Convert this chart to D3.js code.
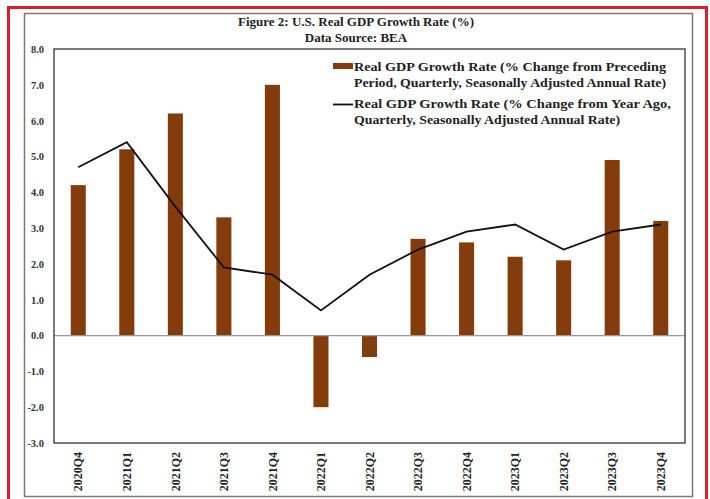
<!DOCTYPE html>
<html>
<head>
<meta charset="utf-8">
<script src="https://cdn.jsdelivr.net/npm/d3@7"></script>
<style>
  body { margin: 0; background: #fff; }
  text { font-family: "Liberation Serif", "Times New Roman", serif; font-weight: bold; }
</style>
</head>
<body>
<svg id="chart" width="710" height="499"></svg>
<script>
// data
const quarters = ["2020Q4", "2021Q1", "2021Q2", "2021Q3", "2021Q4", "2022Q1", "2022Q2",
  "2022Q3", "2022Q4", "2023Q1", "2023Q2", "2023Q3", "2023Q4"];
const qoqRate = [4.2, 5.2, 6.2, 3.3, 7.0, -2.0, -0.6, 2.7, 2.6, 2.2, 2.1, 4.9, 3.2];
const yoyRate = [4.7, 5.4, 3.6, 1.9, 1.7, 0.7, 1.7, 2.4, 2.9, 3.1, 2.4, 2.9, 3.1];
const yTicks = [-3, -2, -1, 0, 1, 2, 3, 4, 5, 6, 7, 8];
const titleLines = ["Figure 2: U.S. Real GDP Growth Rate (%)", "Data Source: BEA"];
const legendBar = ["Real GDP Growth Rate (% Change from Preceding",
  "Period, Quarterly, Seasonally Adjusted Annual Rate)"];
const legendLine = ["Real GDP Growth Rate (% Change from Year Ago,",
  "Quarterly, Seasonally Adjusted Annual Rate)"];

const svg = d3.select("#chart");
const margin = { top: 49, right: 25, bottom: 56, left: 54 };
const width = +svg.attr("width");
const height = +svg.attr("height");
const innerWidth = width - margin.left - margin.right;
const innerHeight = height - margin.top - margin.bottom;

const barColor = "#843c0c";

//outer frames
svg.append("rect")
  .attr("x", 8.5).attr("y", 7.5).attr("width", 698).attr("height", 520)
  .attr("fill", "none").attr("stroke", "#d71f2f").attr("stroke-width", 3);

svg.append("rect")
  .attr("x", 24.5).attr("y", 13.5).attr("width", 668).attr("height", 483)
  .attr("fill", "none").attr("stroke", "#7a7a7a").attr("stroke-width", 1.5);

//title
svg.selectAll(".title")
  .data(titleLines)
  .enter()
  .append("text")
  .attr("class", "title")
  .attr("x", 356)
  .attr("y", (d, i) => 26 + i * 16)
  .attr("text-anchor", "middle")
  .attr("font-size", 13)
  .attr("fill", "#222")
  .text((d) => d);

const g = svg.append("g")
  .attr("transform", `translate(${margin.left},${margin.top})`);

//scales
const xScale = d3.scaleBand()
  .domain(quarters)
  .range([0, innerWidth])
  .paddingInner(0.69)
  .paddingOuter(0.345);

const yScale = d3.scaleLinear()
  .domain([-3, 8])
  .range([innerHeight, 0]);

//y axis
const yAxisG = g.append("g")
  .call(d3.axisLeft(yScale).tickValues(yTicks).tickSize(0).tickPadding(10)
    .tickFormat((d) => d.toFixed(1)));
yAxisG.select(".domain").remove();
yAxisG.selectAll("text")
  .attr("font-family", "Liberation Serif, serif")
  .attr("font-size", 10.5)
  .attr("fill", "#333");

//x axis
const xAxisG = g.append("g")
  .attr("transform", `translate(0,${innerHeight})`)
  .call(d3.axisBottom(xScale).tickSize(0));
xAxisG.select(".domain").remove();
xAxisG.selectAll("text")
  .attr("transform", "rotate(-90)")
  .attr("x", -9)
  .attr("y", 0)
  .attr("dy", "0.35em")
  .attr("text-anchor", "end")
  .attr("font-family", "Liberation Serif, serif")
  .attr("font-size", 12)
  .attr("fill", "#222");

//bars
g.selectAll(".bar")
  .data(qoqRate)
  .enter()
  .append("rect")
  .attr("class", "bar")
  .attr("x", (d, i) => xScale(quarters[i]))
  .attr("y", (d) => yScale(Math.max(0, d)))
  .attr("width", xScale.bandwidth())
  .attr("height", (d) => Math.abs(yScale(d) - yScale(0)))
  .attr("fill", barColor);

//zero line
g.append("line")
  .attr("x1", 0).attr("x2", innerWidth)
  .attr("y1", yScale(0)).attr("y2", yScale(0))
  .attr("stroke", "#999").attr("stroke-width", 1.2);

//year-ago line
const lineGenerator = d3.line()
  .x((d, i) => xScale(quarters[i]) + xScale.bandwidth() / 2)
  .y((d) => yScale(d));

g.append("path")
  .attr("d", lineGenerator(yoyRate))
  .attr("fill", "none")
  .attr("stroke", "#111")
  .attr("stroke-width", 1.8);

//plot border
g.append("rect")
  .attr("x", 0).attr("y", 0)
  .attr("width", innerWidth).attr("height", innerHeight)
  .attr("fill", "none").attr("stroke", "#333").attr("stroke-width", 1.3);

//legend
const legend = svg.append("g").attr("transform", "translate(333,0)");

legend.append("rect")
  .attr("x", 0).attr("y", 63).attr("width", 20).attr("height", 6)
  .attr("fill", barColor);

legend.append("line")
  .attr("x1", 0).attr("x2", 20).attr("y1", 104.5).attr("y2", 104.5)
  .attr("stroke", "#111").attr("stroke-width", 1.8);

// widths of each legend line as measured on the picture
const barLens = [312, 312];
const lineLens = [317, 266];

legend.selectAll(".leg-bar")
  .data(legendBar)
  .enter()
  .append("text")
  .attr("class", "leg-bar")
  .attr("x", 21)
  .attr("y", (d, i) => 71 + i * 16)
  .attr("font-size", 13)
  .attr("textLength", (d, i) => barLens[i])
  .attr("lengthAdjust", "spacingAndGlyphs")
  .attr("fill", "#222")
  .text((d) => d);

legend.selectAll(".leg-line")
  .data(legendLine)
  .enter()
  .append("text")
  .attr("class", "leg-line")
  .attr("x", 21)
  .attr("y", (d, i) => 108 + i * 16)
  .attr("font-size", 13)
  .attr("textLength", (d, i) => lineLens[i])
  .attr("lengthAdjust", "spacingAndGlyphs")
  .attr("fill", "#222")
  .text((d) => d);
</script>
</body>
</html>
